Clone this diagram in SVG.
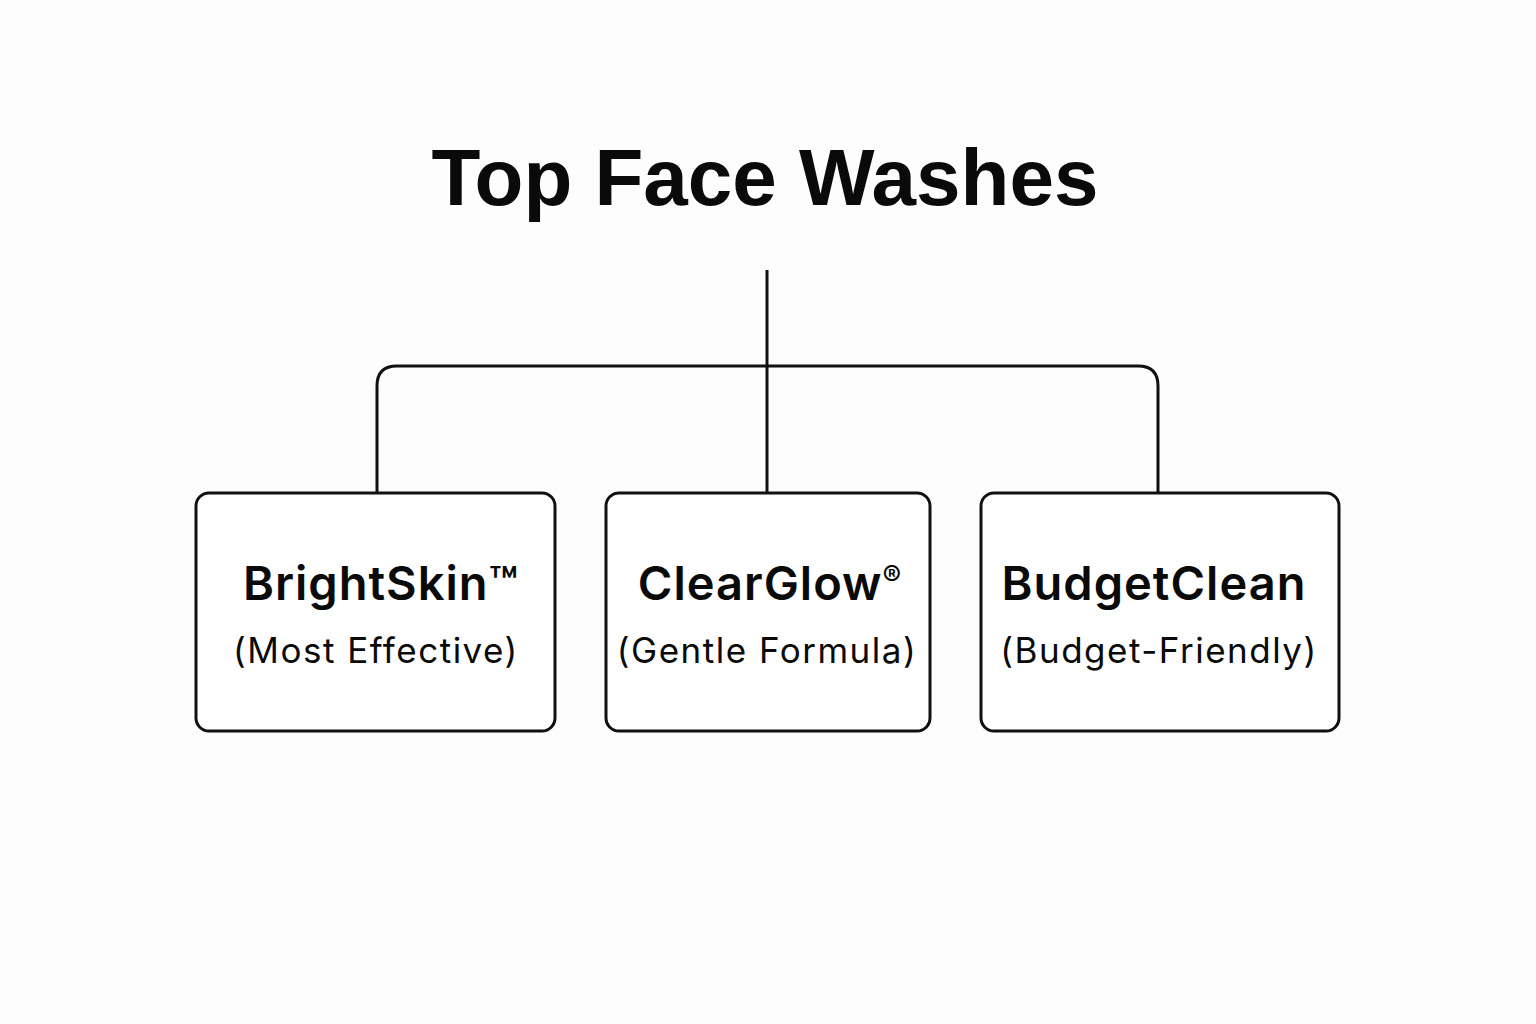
<svg xmlns="http://www.w3.org/2000/svg" width="1536" height="1024" viewBox="0 0 1536 1024">
<style>
.bg{fill:#fdfdfd}
.box{fill:#ffffff;stroke:#111;stroke-width:3}
.conn{fill:none;stroke:#111;stroke-width:3}
.title{font-family:"Liberation Sans",Arial,sans-serif;font-weight:700;font-size:80px;fill:#0a0a0a;text-anchor:middle}
.name{font-family:Inter,"Liberation Sans",sans-serif;font-weight:600;font-size:47px;letter-spacing:1px;fill:#0a0a0a;text-anchor:middle}
.sub{font-family:Inter,"Liberation Sans",sans-serif;font-weight:400;font-size:35px;letter-spacing:1.5px;fill:#0a0a0a;text-anchor:middle}
.sup{font-size:28px}
</style>
<rect class="bg" x="0" y="0" width="1536" height="1024"/>
<text class="title" x="765" y="205">Top Face Washes</text>
<g id="connectors">
<path class="conn" d="M767 270 V493"/>
<path class="conn" d="M377 493 V386 Q377 366 397 366 H1138 Q1158 366 1158 386 V493"/>
</g>
<g id="node-brightskin">
<rect class="box" x="196" y="493" width="359" height="238" rx="13"/>
<text class="name" x="381" y="600">BrightSkin™</text>
<text class="sub" x="376" y="663">(Most Effective)</text>
</g>
<g id="node-clearglow">
<rect class="box" x="606" y="493" width="324" height="238" rx="13"/>
<text class="name" x="770" y="600">ClearGlow<tspan class="sup" dy="-14">®</tspan></text>
<text class="sub" x="767" y="663">(Gentle Formula)</text>
</g>
<g id="node-budgetclean">
<rect class="box" x="981" y="493" width="358" height="238" rx="13"/>
<text class="name" x="1154" y="600">BudgetClean</text>
<text class="sub" x="1159" y="663">(Budget-Friendly)</text>
</g>
</svg>
